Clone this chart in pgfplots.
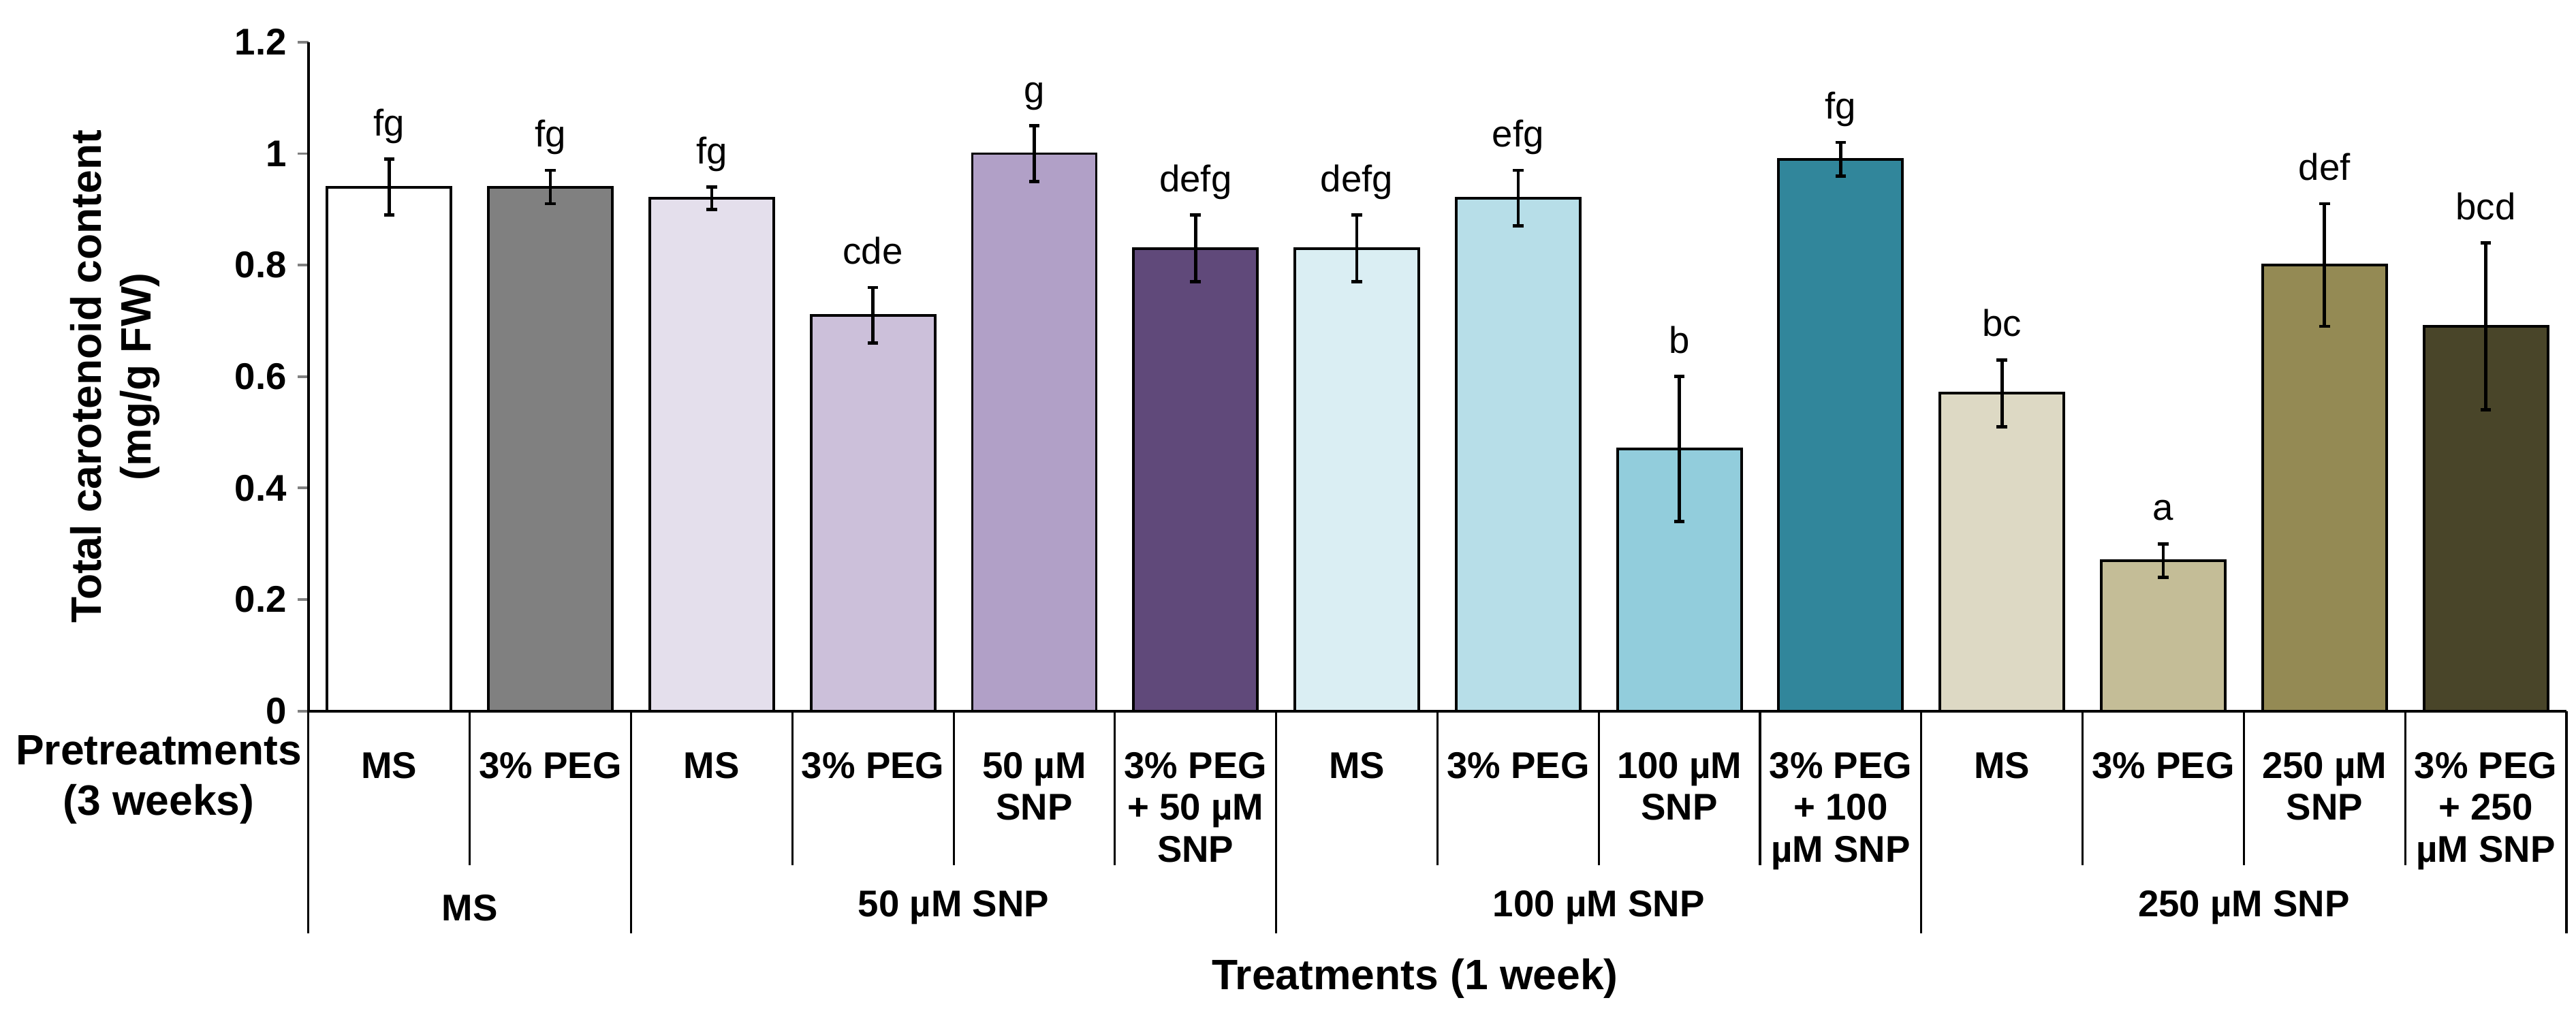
\documentclass[border=0pt]{standalone}
\usepackage{fontspec}
\setmainfont{Liberation Sans}
\usepackage{pgfplots}
\pgfplotsset{compat=1.18}

% Excel palette fills, one per bar
\definecolor{c1}{HTML}{FFFFFF}
\definecolor{c2}{HTML}{808080}
\definecolor{c3}{HTML}{E4DFEC}
\definecolor{c4}{HTML}{CCC0DA}
\definecolor{c5}{HTML}{B1A0C7}
\definecolor{c6}{HTML}{60497A}
\definecolor{c7}{HTML}{DAEEF3}
\definecolor{c8}{HTML}{B7DEE8}
\definecolor{c9}{HTML}{92CDDC}
\definecolor{c10}{HTML}{31869B}
\definecolor{c11}{HTML}{DDD9C4}
\definecolor{c12}{HTML}{C4BD97}
\definecolor{c13}{HTML}{948A54}
\definecolor{c14}{HTML}{494529}

\newcommand{\lbl}{\bfseries\fontsize{10.5}{11.8}\selectfont}
\newcommand{\ttl}{\bfseries\fontsize{12}{14}\selectfont}

\pgfplotsset{
  cbar/.style={ybar, bar width=35pt, bar shift=0pt, draw=black, line width=0.75pt,
    error bars/y dir=both, error bars/y explicit,
    error bars/error bar style={line width=0.9pt, black},
    error bars/error mark options={rotate=90, mark size=1.5pt, line width=0.9pt, black}},
}

\begin{document}
\begin{tikzpicture}
\begin{axis}[
    name=ax,
    scale only axis,
    width=637.5pt, height=188.8pt,
    xmin=0, xmax=14,
    ymin=0, ymax=1.2,
    axis lines=left,
    axis line style={-, line width=0.75pt},
    tick align=outside,
    major tick length=3pt,
    ytick={0,0.2,0.4,0.6,0.8,1,1.2},
    ytick style={line width=0.75pt},
    yticklabel style={font=\lbl, inner sep=0pt, xshift=-3pt},
    /pgf/number format/assume math mode=true,
    xtick={0.5,1.5,2.5,3.5,4.5,5.5,6.5,7.5,8.5,9.5,10.5,11.5,12.5,13.5},
    xtick style={draw=none},
    xticklabels={MS, 3\% PEG, MS, 3\% PEG, {50 µM\\SNP}, {3\% PEG\\+ 50 µM\\SNP},
      MS, 3\% PEG, {100 µM\\SNP}, {3\% PEG\\+ 100\\µM SNP},
      MS, 3\% PEG, {250 µM\\SNP}, {3\% PEG\\+ 250\\µM SNP}},
    xticklabel style={font=\lbl, align=center, anchor=north, inner sep=0pt, yshift=-8.5pt},
    ylabel={Total carotenoid content\\(mg/g FW)},
    ylabel style={at={(axis description cs:-0.0857,0.5)}, anchor=center, align=center, font=\ttl},
    xlabel={Treatments (1 week)},
    xlabel style={at={(axis description cs:0.49,-0.40)}, anchor=center, font=\ttl},
    clip=false,
  ]
  \addplot[cbar, fill=c1]  coordinates {(0.5,0.94)  +- (0,0.05)};
  \addplot[cbar, fill=c2]  coordinates {(1.5,0.94)  +- (0,0.03)};
  \addplot[cbar, fill=c3]  coordinates {(2.5,0.92)  +- (0,0.02)};
  \addplot[cbar, fill=c4]  coordinates {(3.5,0.71)  +- (0,0.05)};
  \addplot[cbar, fill=c5]  coordinates {(4.5,1.00)  +- (0,0.05)};
  \addplot[cbar, fill=c6]  coordinates {(5.5,0.83)  +- (0,0.06)};
  \addplot[cbar, fill=c7]  coordinates {(6.5,0.83)  +- (0,0.06)};
  \addplot[cbar, fill=c8]  coordinates {(7.5,0.92)  +- (0,0.05)};
  \addplot[cbar, fill=c9]  coordinates {(8.5,0.47)  +- (0,0.13)};
  \addplot[cbar, fill=c10] coordinates {(9.5,0.99)  +- (0,0.03)};
  \addplot[cbar, fill=c11] coordinates {(10.5,0.57) +- (0,0.06)};
  \addplot[cbar, fill=c12] coordinates {(11.5,0.27) +- (0,0.03)};
  \addplot[cbar, fill=c13] coordinates {(12.5,0.80) +- (0,0.11)};
  \addplot[cbar, fill=c14] coordinates {(13.5,0.69) +- (0,0.15)};

  % significance letters, placed at the top of each error bar
  \addplot[draw=none, mark=none, nodes near coords={\raisebox{0pt}[\height][0pt]{\pgfplotspointmeta}},
    point meta=explicit symbolic,
    every node near coord/.append style={anchor=south, inner sep=0pt, yshift=6.4pt,
      font=\fontsize{10.5}{11}\selectfont}]
    table[meta=lab] {
    x    top   lab
    0.5  0.99  fg
    1.5  0.97  fg
    2.5  0.94  fg
    3.5  0.76  cde
    4.5  1.05  g
    5.5  0.89  defg
    6.5  0.89  defg
    7.5  0.97  efg
    8.5  0.60  b
    9.5  1.02  fg
    10.5 0.63  bc
    11.5 0.30  a
    12.5 0.91  def
    13.5 0.84  bcd
  };

  % category separators below the axis
  \pgfplotsinvokeforeach{1,3,4,5,7,8,9,11,12,13}{
    \draw[line width=0.6pt] (axis cs:#1,0) -- ++(0,-43.5pt);
  }
  \pgfplotsinvokeforeach{0,2,6,10,14}{
    \draw[line width=0.6pt] (axis cs:#1,0) -- ++(0,-62.7pt);
  }
  \node[font=\lbl] at ([yshift=-55.5pt]axis cs:1,0) {MS};
  \node[font=\lbl] at ([yshift=-55.5pt]axis cs:4,0) {50 µM SNP};
  \node[font=\lbl] at ([yshift=-55.5pt]axis cs:8,0) {100 µM SNP};
  \node[font=\lbl] at ([yshift=-55.5pt]axis cs:12,0) {250 µM SNP};
  \node[font=\bfseries\fontsize{12}{14.3}\selectfont, align=center, inner sep=0pt]
    at ([xshift=-42.3pt, yshift=-19.4pt]axis cs:0,0) {Pretreatments\\(3 weeks)};
\end{axis}
\pgfresetboundingbox
\path[use as bounding box] ([xshift=-87.1pt, yshift=-84.6pt]ax.south west)
  rectangle ([xshift=2.7pt, yshift=11.9pt]ax.north east);
\end{tikzpicture}
\end{document}
